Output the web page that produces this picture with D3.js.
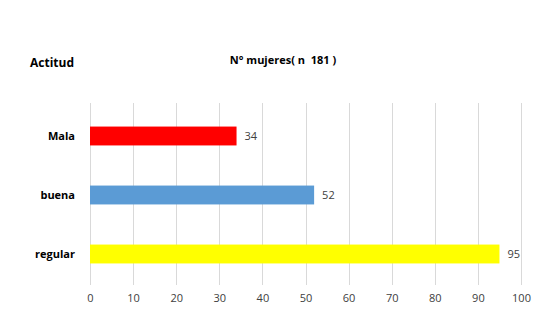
<!DOCTYPE html>
<html>
<head>
<meta charset="utf-8">
<script src="https://cdn.jsdelivr.net/npm/d3@7"></script>
<style>
  body { margin: 0; background: #fff; }
  text { font-family: "Open Sans", "Liberation Sans", sans-serif; }
</style>
</head>
<body>
<div id="chart"></div>
<script>
// values
const categories = ["Mala", "buena", "regular"];
const counts = [34, 52, 95];
const barColors = ["#ff0000", "#5b9bd5", "#ffff00"];
const xTicks = [0, 10, 20, 30, 40, 50, 60, 70, 80, 90, 100];

const width = 553, height = 331;
const margin = { top: 103, right: 32, bottom: 46, left: 90 };

const svg = d3.select("#chart").append("svg")
    .attr("width", width)
    .attr("height", height);

const x = d3.scaleLinear()
    .domain([0, 100])
    .range([margin.left, width - margin.right]);

const y = d3.scaleBand()
    .domain(categories)
    .range([106.5, 283.5])
    .paddingInner(0.68)
    .paddingOuter(0.34);

// vertical grid lines
svg.append("g")
    .selectAll("line")
    .data(xTicks)
    .join("line")
    .attr("x1", d => Math.round(x(d)) + 0.5)
    .attr("x2", d => Math.round(x(d)) + 0.5)
    .attr("y1", margin.top)
    .attr("y2", height - margin.bottom)
    .attr("stroke", "#d9d9d9")
    .attr("stroke-width", 1);

// x tick labels
svg.append("g")
    .attr("transform", `translate(0,${height - margin.bottom})`)
    .call(d3.axisBottom(x).tickValues(xTicks).tickSize(0).tickPadding(9))
    .call(g => g.select(".domain").remove())
    .selectAll("text")
    .attr("font-size", "11px")
    .attr("fill", "#404040");

// bars
svg.append("g")
    .selectAll("rect")
    .data(categories)
    .join("rect")
    .attr("x", x(0))
    .attr("y", d => y(d))
    .attr("width", (d, i) => x(counts[i]) - x(0))
    .attr("height", y.bandwidth())
    .attr("fill", (d, i) => barColors[i]);

// value labels
svg.append("g")
    .selectAll("text")
    .data(categories)
    .join("text")
    .attr("x", (d, i) => x(counts[i]) + 8)
    .attr("y", d => y(d) + y.bandwidth() / 2)
    .attr("dy", "0.35em")
    .attr("font-size", "11px")
    .attr("fill", "#404040")
    .text((d, i) => counts[i]);

// category labels
svg.append("g")
    .selectAll("text")
    .data(categories)
    .join("text")
    .attr("x", 75)
    .attr("y", d => y(d) + y.bandwidth() / 2)
    .attr("dy", "0.35em")
    .attr("text-anchor", "end")
    .attr("font-size", "11px")
    .attr("font-weight", "bold")
    .attr("fill", "#000")
    .text(d => d);

// titles
svg.append("text")
    .attr("x", 30)
    .attr("y", 67)
    .attr("font-size", "12px")
    .attr("font-weight", "bold")
    .text("Actitud");

svg.append("text")
    .attr("x", 283)
    .attr("y", 64)
    .attr("text-anchor", "middle")
    .attr("font-size", "11px")
    .attr("font-weight", "bold")
    .attr("xml:space", "preserve")
    .text("N° mujeres( n  181 )");
</script>
</body>
</html>
